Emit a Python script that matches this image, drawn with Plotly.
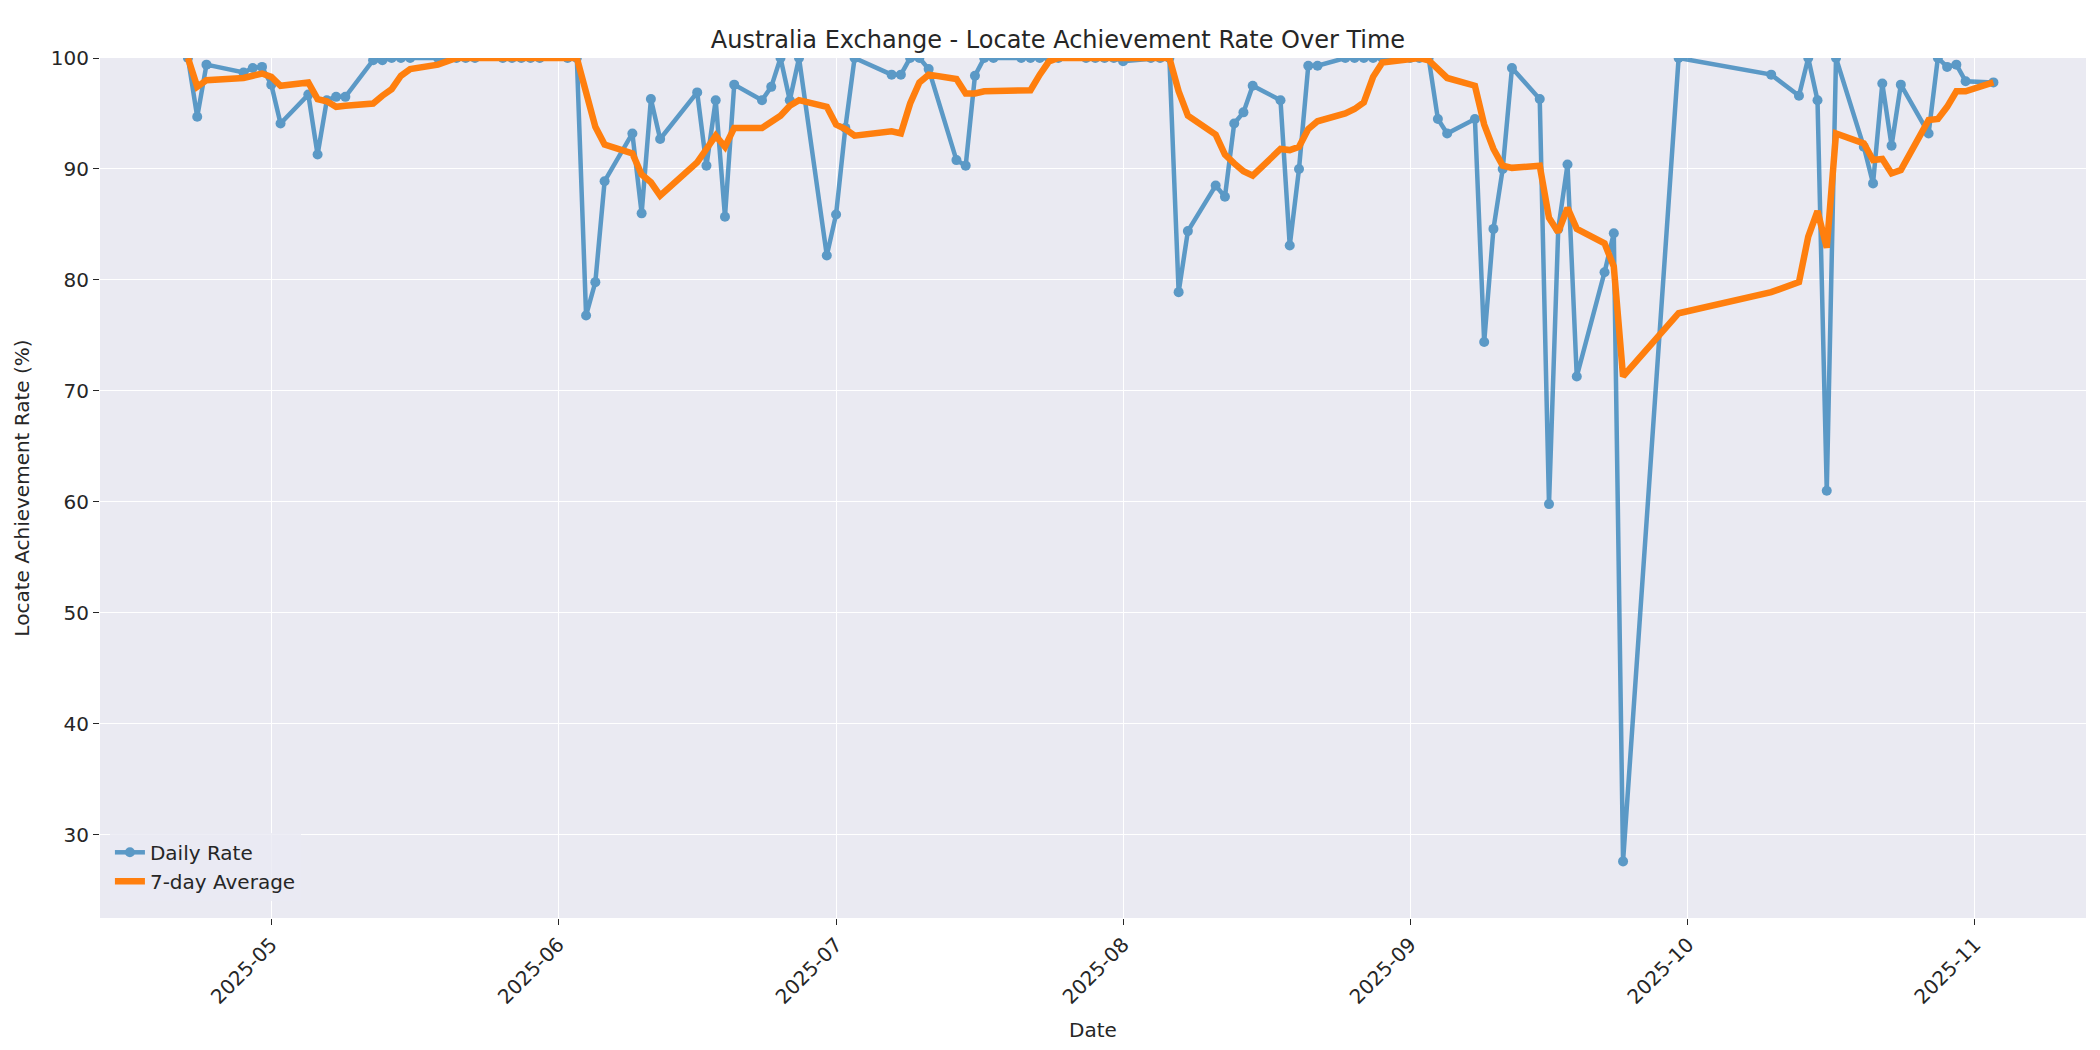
import pandas as pd
import plotly.graph_objects as go

dates = [
    "2025-04-22", "2025-04-23", "2025-04-24", "2025-04-28", "2025-04-29", "2025-04-30",
    "2025-05-01", "2025-05-02", "2025-05-05", "2025-05-06", "2025-05-07", "2025-05-08", "2025-05-09",
    "2025-05-12", "2025-05-13", "2025-05-14", "2025-05-15", "2025-05-16",
    "2025-05-19", "2025-05-20", "2025-05-21", "2025-05-22", "2025-05-23",
    "2025-05-26", "2025-05-27", "2025-05-28", "2025-05-29", "2025-05-30",
    "2025-06-02", "2025-06-03", "2025-06-04", "2025-06-05", "2025-06-06",
    "2025-06-09", "2025-06-10", "2025-06-11", "2025-06-12",
    "2025-06-16", "2025-06-17", "2025-06-18", "2025-06-19", "2025-06-20",
    "2025-06-23", "2025-06-24", "2025-06-25", "2025-06-26", "2025-06-27",
    "2025-06-30", "2025-07-01", "2025-07-02", "2025-07-03",
    "2025-07-07", "2025-07-08", "2025-07-09", "2025-07-10", "2025-07-11",
    "2025-07-14", "2025-07-15", "2025-07-16", "2025-07-17", "2025-07-18",
    "2025-07-21", "2025-07-22", "2025-07-23", "2025-07-24", "2025-07-25",
    "2025-07-28", "2025-07-29", "2025-07-30", "2025-07-31", "2025-08-01",
    "2025-08-04", "2025-08-05", "2025-08-06", "2025-08-07", "2025-08-08",
    "2025-08-11", "2025-08-12", "2025-08-13", "2025-08-14", "2025-08-15",
    "2025-08-18", "2025-08-19", "2025-08-20", "2025-08-21", "2025-08-22",
    "2025-08-25", "2025-08-26", "2025-08-27", "2025-08-28", "2025-08-29",
    "2025-09-01", "2025-09-02", "2025-09-03", "2025-09-04", "2025-09-05",
    "2025-09-08", "2025-09-09", "2025-09-10", "2025-09-11", "2025-09-12",
    "2025-09-15", "2025-09-16", "2025-09-17", "2025-09-18", "2025-09-19",
    "2025-09-22", "2025-09-23", "2025-09-24", "2025-09-30",
    "2025-10-10", "2025-10-13", "2025-10-14", "2025-10-15", "2025-10-16", "2025-10-17",
    "2025-10-20", "2025-10-21", "2025-10-22", "2025-10-23", "2025-10-24",
    "2025-10-27", "2025-10-28", "2025-10-29", "2025-10-30", "2025-10-31",
    "2025-11-03",
]

daily_rate = [
    100, 94.7, 99.4, 98.7, 99.1, 99.2,
    97.6, 94.1, 96.7, 91.3, 96.2, 96.5, 96.5,
    99.8, 99.8, 100, 100, 100,
    100, 100, 100, 100, 100,
    100, 100, 100, 100, 100,
    100, 100, 76.8, 79.8, 88.9,
    93.2, 86.0, 96.3, 92.7,
    96.9, 90.3, 96.2, 85.7, 97.6,
    96.2, 97.4, 100, 96.2, 100,
    82.2, 85.9, 93.7, 100,
    98.5, 98.5, 100, 100, 99.0,
    90.8, 90.3, 98.4, 100, 100,
    100, 100, 100, 100, 100,
    100, 100, 100, 100, 99.7,
    100, 100, 100, 78.9, 84.4,
    88.5, 87.5, 94.1, 95.1, 97.5,
    96.2, 83.1, 90.0, 99.3, 99.3,
    100, 100, 100, 100, 100,
    100, 100, 100, 94.5, 93.2,
    94.5, 74.4, 84.6, 90.0, 99.1,
    96.3, 59.8, 84.6, 90.4, 71.3,
    80.7, 84.2, 27.6, 100,
    98.5, 96.6, 100, 96.2, 61.0, 100,
    92.0, 88.7, 97.7, 92.1, 97.6,
    93.2, 100, 99.2, 99.4, 97.9,
    97.8,
]

avg_7d = [
    100, 97.4, 98.0, 98.2, 98.4, 98.6,
    98.3, 97.5, 97.8, 96.3, 96.1, 95.6, 95.7,
    95.9, 96.6, 97.2, 98.4, 99.0,
    99.4, 99.7, 100, 100, 100,
    100, 100, 100, 100, 100,
    100, 100, 96.9, 93.8, 92.2,
    91.4, 89.5, 88.8, 87.6,
    90.6, 91.8, 93.0, 92.0, 93.7,
    93.7, 94.3, 94.8, 95.7, 96.2,
    95.6, 94.0, 93.6, 93.0,
    93.4, 93.2, 95.9, 97.8, 98.5,
    98.1, 96.8, 96.8, 97.0, 97.0,
    97.0, 97.1, 98.5, 99.7, 100,
    100, 100, 100, 100, 100,
    100, 100, 100, 97.0, 94.8,
    93.1, 91.3, 90.5, 89.8, 89.4,
    91.8, 91.7, 92.0, 93.6, 94.3,
    95.0, 95.4, 96.0, 98.3, 99.6,
    99.9, 100, 99.8, 99.0, 98.2,
    97.5, 94.0, 91.8, 90.3, 90.1,
    90.3, 85.6, 84.3, 86.5, 84.6,
    83.3, 81.2, 71.3, 77.0,
    78.9, 79.8, 83.9, 86.2, 82.9, 93.2,
    92.3, 90.8, 90.9, 89.6, 89.9,
    94.4, 94.5, 95.6, 97.0, 97.0,
    97.8,
]

x = pd.to_datetime(dates)
font = "DejaVu Sans"

fig = go.Figure()
fig.add_trace(
    go.Scatter(
        x=x, y=daily_rate, name="Daily Rate", mode="lines+markers",
        line=dict(color="#1f77b4", width=4.5), marker=dict(size=10),
        opacity=0.7,
    )
)
fig.add_trace(
    go.Scatter(
        x=x, y=avg_7d, name="7-day Average", mode="lines",
        line=dict(color="#ff7f0e", width=6.5),
    )
)

fig.update_layout(
    width=2100, height=1050,
    paper_bgcolor="white", plot_bgcolor="#EAEAF2",
    font=dict(family=font, size=20, color="#262626"),
    title=dict(text="Australia Exchange - Locate Achievement Rate Over Time",
               x=0.5, xanchor="center", y=0.978, font=dict(size=24)),
    margin=dict(l=92, r=22, t=50, b=140),
    legend=dict(x=0.005, y=0.02, xanchor="left", yanchor="bottom",
                bgcolor="rgba(234,234,242,0.8)", font=dict(size=20)),
)
fig.update_xaxes(
    title=dict(text="Date", font=dict(size=20)),
    range=["2025-04-12 12:00", "2025-11-13"],
    dtick="M1", tickformat="%Y-%m", tickangle=-45,
    gridcolor="white", gridwidth=1, showline=False, zeroline=False,
    ticks="outside", ticklen=6, tickcolor="#262626",
)
fig.update_yaxes(
    title=dict(text="Locate Achievement Rate (%)", font=dict(size=20)),
    range=[22.5, 100], dtick=10,
    gridcolor="white", gridwidth=1, showline=False, zeroline=False,
    ticks="outside", ticklen=6, tickcolor="#262626",
)

fig.write_html("out.html")
